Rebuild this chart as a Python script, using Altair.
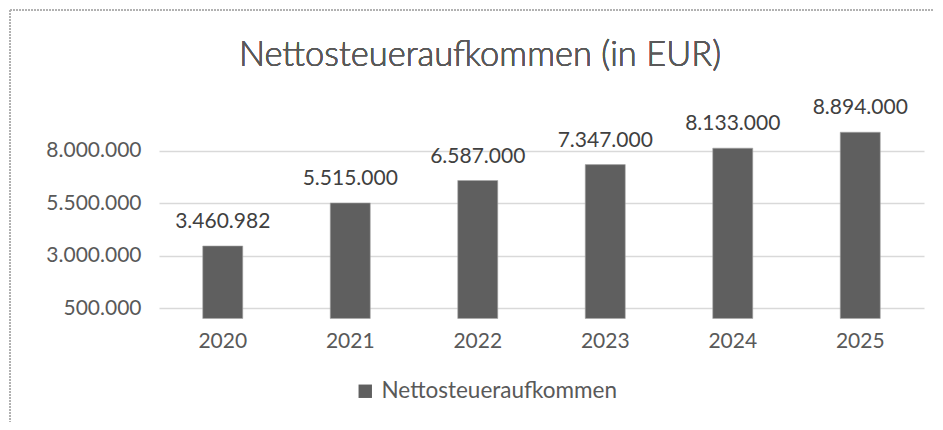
import altair as alt
import pandas as pd

years = ["2020", "2021", "2022", "2023", "2024", "2025"]
values = [3460982, 5515000, 6587000, 7347000, 8133000, 8894000]
series_name = "Nettosteueraufkommen"
y_ticks = [500000, 3000000, 5500000, 8000000]
title_text = "Nettosteueraufkommen (in EUR)"

df = pd.DataFrame({"year": years, "value": values, "series": [series_name] * len(years)})

FONT = "Lato"
TXT = "#595959"

x_enc = alt.X("year:N", sort=years, title=None,
              scale=alt.Scale(paddingInner=0, paddingOuter=0),
              axis=alt.Axis(domain=False, ticks=False, labelAngle=0, labelFontSize=21,
                            labelFont=FONT, labelColor=TXT, labelPadding=22, grid=False))
y_enc = alt.Y("value:Q", title=None,
              scale=alt.Scale(domain=[500000, 9000000], nice=False, zero=False),
              axis=alt.Axis(values=y_ticks, format=",d", domain=False, ticks=False,
                            labelFontSize=21, labelFont=FONT, labelColor=TXT, labelPadding=18,
                            gridColor="#d9d9d9", gridWidth=1.5))

base = alt.Chart(df)

bars = base.mark_bar(size=40, stroke="#a6a6a6", strokeWidth=0.6).encode(
    x=x_enc, y=y_enc,
    color=alt.Color("series:N", scale=alt.Scale(range=["#5f5f5f"]),
                    legend=alt.Legend(orient="none", legendX=195, legendY=250, title=None,
                                      symbolType="square", symbolSize=180, symbolStrokeWidth=0,
                                      labelFontSize=22.5, labelFont=FONT, labelColor=TXT,
                                      labelOffset=5, labelLimit=0)),
)

labels = base.mark_text(baseline="bottom", dy=-14, fontSize=21, font=FONT, color="#404040").encode(
    x=alt.X("year:N", sort=years), y="value:Q", text=alt.Text("value:Q", format=",d")
)

title = base.mark_text(fontSize=34.5, font=FONT, fontWeight=300, color=TXT, align="center",
                       baseline="alphabetic").encode(
    x=alt.value(321), y=alt.value(-64), text=alt.value(title_text)
)

border_top = base.mark_rule(color="#b0b0b0", strokeDash=[2, 1], strokeWidth=1).encode(
    x=alt.value(-149), x2=alt.value(800), y=alt.value(-120)
)
border_left = base.mark_rule(color="#b0b0b0", strokeDash=[2, 1], strokeWidth=1).encode(
    x=alt.value(-149), y=alt.value(-120), y2=alt.value(320)
)

chart = alt.layer(bars, labels, title, border_top, border_left).properties(
    width=765, height=178,
    autosize=alt.AutoSizeParams(type="none"),
    padding={"left": 151, "top": 122, "right": 10, "bottom": 114},
).configure(
    locale=alt.Locale(number=alt.NumberLocale(decimal=",", thousands=".", grouping=[3],
                                              currency=["", " €"])),
).configure_view(stroke=None)

chart.save("out.html", embed_options={"renderer": "svg", "actions": False})
